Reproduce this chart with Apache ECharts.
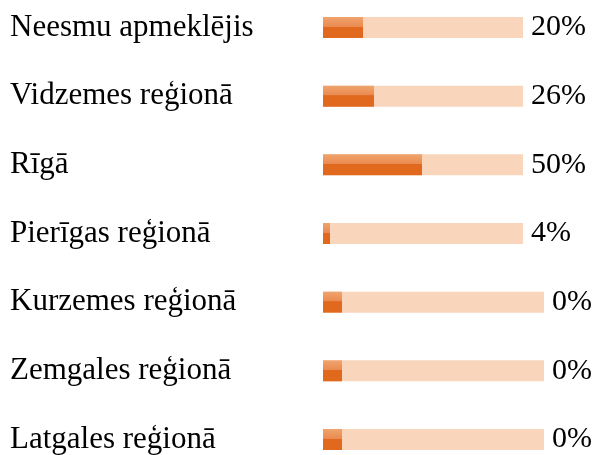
<!DOCTYPE html>
<html>
<head>
<meta charset="utf-8">
<script src="https://cdn.jsdelivr.net/npm/echarts@6/dist/echarts.min.js"></script>
<style>
  html, body { margin: 0; padding: 0; background: #fff; }
  #chart { width: 593px; height: 455px; }
</style>
</head>
<body>
<div id="chart"></div>
<script>
// rindu nosaukumi
const categories = ['Neesmu apmeklējis', 'Vidzemes reģionā', 'Rīgā', 'Pierīgas reģionā', 'Kurzemes reģionā', 'Zemgales reģionā', 'Latgales reģionā'];
// procenti, kā rakstīts pie joslām
const valueLabels = ['20%', '26%', '50%', '4%', '0%', '0%', '0%'];
// aizpildītās joslas garums (nolasīts no attēla, skala 0-100)
const fillLen = [20, 25.5, 49.5, 3.5, 9.5, 9.5, 9.5];
// fona joslas garums
const trackLen = [100, 100, 100, 100, 110.5, 110.5, 110.5];

const chart = echarts.init(document.getElementById('chart'));

const font = "'Liberation Serif', 'Times New Roman', serif";

const option = {
  animation: false,
  grid: {
    left: 323,
    top: 27.5,
    height: 414,
    width: 221
  },
  xAxis: {
    type: 'value',
    min: 0,
    max: 110.5,
    show: false
  },
  yAxis: {
    type: 'category',
    data: categories,
    inverse: true,
    boundaryGap: false,
    axisLine: { show: false },
    axisTick: { show: false },
    splitLine: { show: false },
    axisLabel: {
      align: 'left',
      margin: 313,
      color: '#000',
      fontFamily: font,
      fontSize: 31,
      padding: [0, 0, 4, 0]
    }
  },
  series: [
    {
      name: 'track',
      type: 'bar',
      data: trackLen,
      barWidth: 21,
      barGap: '-100%',
      itemStyle: { color: '#f8d5bb' },
      label: {
        show: true,
        position: 'right',
        distance: 8,
        color: '#000',
        fontFamily: font,
        fontSize: 30,
        padding: [0, 0, 4, 0],
        formatter: p => valueLabels[p.dataIndex]
      },
      silent: true
    },
    {
      name: 'fill',
      type: 'bar',
      data: fillLen,
      barWidth: 21,
      barGap: '-100%',
      itemStyle: {
        color: {
          type: 'linear', x: 0, y: 0, x2: 0, y2: 1,
          colorStops: [
            { offset: 0, color: '#f0a46e' },
            { offset: 0.46, color: '#ea8a50' },
            { offset: 0.47, color: '#e0691e' },
            { offset: 1, color: '#e0691e' }
          ]
        }
      }
    }
  ]
};

chart.setOption(option);
window.addEventListener('resize', () => chart.resize());
</script>
</body>
</html>
